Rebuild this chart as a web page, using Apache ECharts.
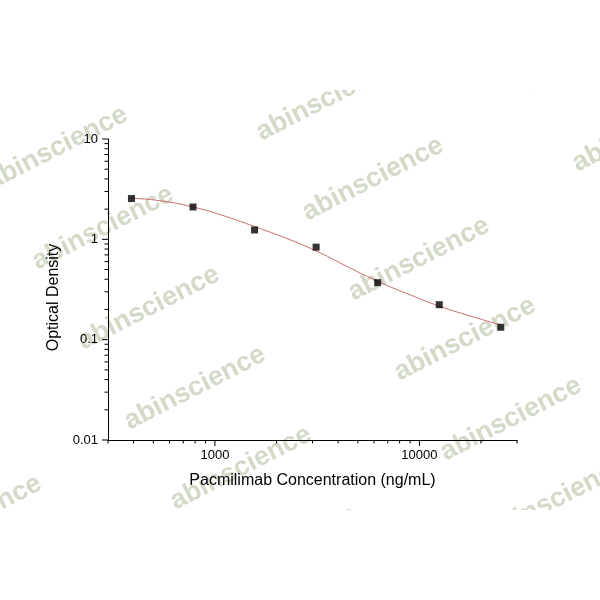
<!DOCTYPE html>
<html>
<head>
<meta charset="utf-8">
<script src="https://cdn.jsdelivr.net/npm/echarts@6/dist/echarts.min.js"></script>
<style>
html, body { margin: 0; padding: 0; background: #fff; }
#chart { width: 600px; height: 600px; }
</style>
</head>
<body>
<div id="chart"></div>
<script>
// measured standards
var concentrations = [390.6, 781.25, 1562.5, 3125, 6250, 12500, 25000];
var densities = [2.55, 2.10, 1.24, 0.836, 0.370, 0.223, 0.133];

// fitted curve
var fitX = [390.6, 535, 781.25, 1132, 1562.5, 2218, 3125, 4277, 6250, 9036, 12500, 17740, 25000];
var fitY = [2.57, 2.43, 2.10, 1.69, 1.34, 1.03, 0.767, 0.556, 0.382, 0.279, 0.216, 0.172, 0.140];

// axis ticks
var xMajorTicks = [1000, 10000];
var xMinorTicks = [300, 400, 500, 600, 700, 800, 900, 2000, 3000, 4000, 5000, 6000, 7000, 8000, 9000, 20000, 30000];
var yMajorTicks = [0.01, 0.1, 1, 10];
var yMinorTicks = [0.02, 0.03, 0.04, 0.05, 0.06, 0.07, 0.08, 0.09, 0.2, 0.3, 0.4, 0.5, 0.6, 0.7, 0.8, 0.9, 2, 3, 4, 5, 6, 7, 8, 9];

var xMin = 300, xMax = 30000, yMin = 0.01, yMax = 10;
var font = 'Liberation Sans, Arial, sans-serif';

var myChart = echarts.init(document.getElementById('chart'));

// watermark tiles
var wmOrigin = [103, 228], wmA = [46, 80], wmB = [270, -49];
var wmCells = [[-2, 0], [-1, 0], [0, 0], [1, 0], [2, 0], [3, 0], [4, 0],
    [-1, 1], [0, 1], [1, 1], [2, 1], [3, 1], [4, 1],
    [-1, 2], [0, 2], [3, -1]];
var watermarks = wmCells.map(function (c) {
    return {
        type: 'text',
        x: wmOrigin[0] + c[0] * wmA[0] + c[1] * wmB[0],
        y: wmOrigin[1] + c[0] * wmA[1] + c[1] * wmB[1],
        rotation: 27 * Math.PI / 180,
        silent: true,
        style: {
            text: 'abinscience',
            fontSize: 27,
            fontWeight: 'bold',
            fontFamily: font,
            fill: '#d3dac8',
            align: 'center',
            verticalAlign: 'middle',
            textAlign: 'center',
            textVerticalAlign: 'middle'
        }
    };
});

function tickRows(values, fixed, len, isX) {
    return values.map(function (v) {
        return isX ? [v, fixed, len] : [fixed, v, len];
    });
}

var xTickData = tickRows(xMajorTicks, yMin, 6, true).concat(tickRows(xMinorTicks, yMin, 3.5, true));
var yTickData = tickRows(yMajorTicks, xMin, 6, false).concat(tickRows(yMinorTicks, xMin, 3.5, false));

function isPow10(v) {
    var l = Math.log(v) / Math.LN10;
    return Math.abs(l - Math.round(l)) < 1e-6;
}

option = {
    animation: false,
    backgroundColor: '#fff',
    grid: {
        left: 108,
        right: 83,
        top: 139,
        bottom: 160
    },
    graphic: {
        elements: [
            { type: 'group', z: 0, silent: true, children: watermarks },
            { type: 'rect', z: 1, silent: true, shape: { x: 0, y: 0, width: 600, height: 90 }, style: { fill: '#fff' } },
            { type: 'rect', z: 1, silent: true, shape: { x: 0, y: 510, width: 600, height: 90 }, style: { fill: '#fff' } }
        ]
    },
    xAxis: {
        type: 'log',
        logBase: 10,
        min: xMin,
        max: xMax,
        name: 'Pacmilimab Concentration (ng/mL)',
        nameLocation: 'middle',
        nameGap: 33,
        nameTextStyle: { color: '#000', fontSize: 16, fontFamily: font },
        axisLine: { show: true, lineStyle: { color: '#000', width: 1 } },
        axisTick: { show: false },
        splitLine: { show: false },
        minorTick: { show: false },
        axisLabel: {
            color: '#000',
            fontSize: 13,
            fontFamily: font,
            margin: 9,
            showMinLabel: false,
            showMaxLabel: false,
            formatter: function (v) {
                return isPow10(v) ? String(Math.round(v)) : '';
            }
        }
    },
    yAxis: {
        type: 'log',
        logBase: 10,
        min: yMin,
        max: yMax,
        name: 'Optical Density',
        nameLocation: 'middle',
        nameGap: 42,
        nameTextStyle: { color: '#000', fontSize: 16, fontFamily: font, padding: [0, 16, 0, 0] },
        axisLine: { show: true, lineStyle: { color: '#000', width: 1 } },
        axisTick: { show: false },
        splitLine: { show: false },
        minorTick: { show: false },
        axisLabel: {
            color: '#000',
            fontSize: 13,
            fontFamily: font,
            margin: 10,
            formatter: function (v) {
                if (!isPow10(v)) return '';
                return v >= 1 ? String(Math.round(v)) : String(+v.toPrecision(1));
            }
        }
    },
    series: [
        {
            name: 'fit',
            type: 'line',
            data: fitX.map(function (x, i) { return [x, fitY[i]]; }),
            smooth: true,
            showSymbol: false,
            z: 3,
            lineStyle: { color: '#c86c6c', width: 1 }
        },
        {
            name: 'standards',
            type: 'scatter',
            data: concentrations.map(function (x, i) { return [x, densities[i]]; }),
            symbol: 'rect',
            symbolSize: 7,
            z: 4,
            itemStyle: { color: '#000' }
        },
        {
            name: 'xTicks',
            type: 'custom',
            coordinateSystem: 'cartesian2d',
            clip: false,
            silent: true,
            z: 5,
            encode: { x: 0, y: 1 },
            data: xTickData,
            renderItem: function (params, api) {
                var p = api.coord([api.value(0), api.value(1)]);
                return {
                    type: 'line',
                    shape: { x1: p[0], y1: p[1], x2: p[0], y2: p[1] + api.value(2) },
                    style: { stroke: '#000', lineWidth: 1 }
                };
            }
        },
        {
            name: 'yTicks',
            type: 'custom',
            coordinateSystem: 'cartesian2d',
            clip: false,
            silent: true,
            z: 5,
            encode: { x: 0, y: 1 },
            data: yTickData,
            renderItem: function (params, api) {
                var p = api.coord([api.value(0), api.value(1)]);
                return {
                    type: 'line',
                    shape: { x1: p[0] - api.value(2), y1: p[1], x2: p[0], y2: p[1] },
                    style: { stroke: '#000', lineWidth: 1 }
                };
            }
        }
    ]
};

myChart.setOption(option);
</script>
</body>
</html>
